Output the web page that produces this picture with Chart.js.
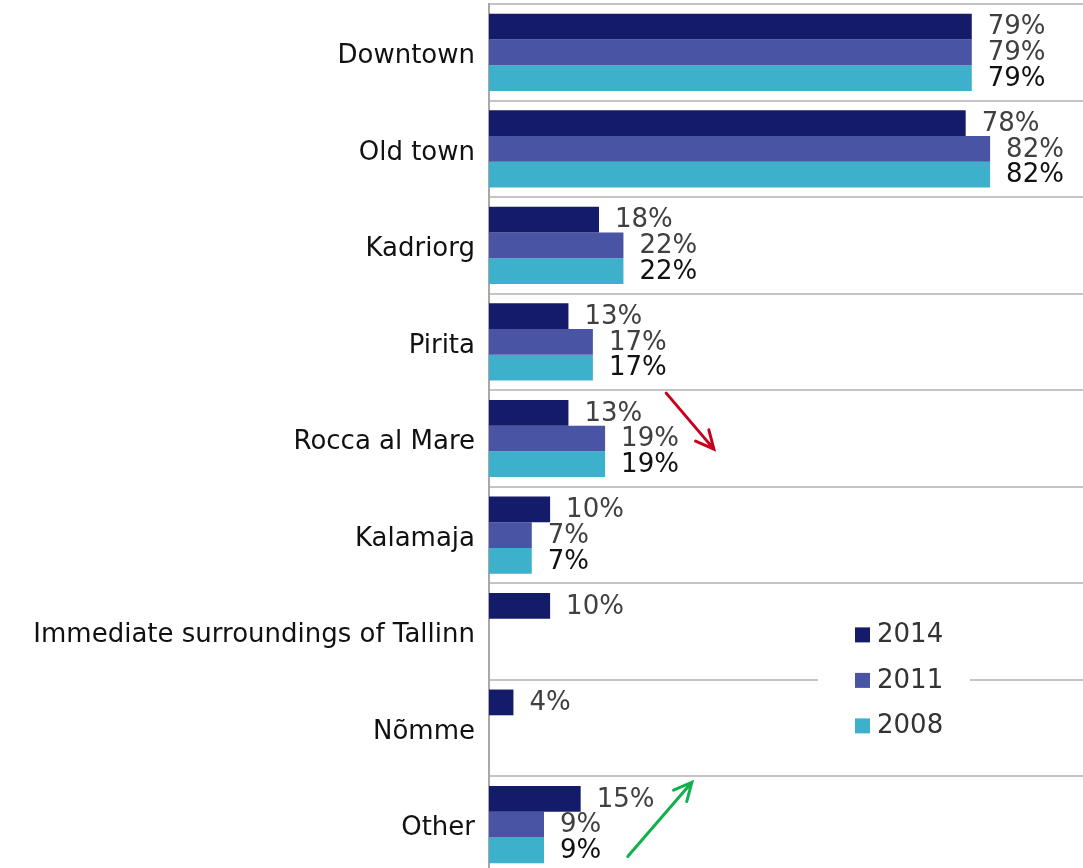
<!DOCTYPE html>
<html>
<head>
<meta charset="utf-8">
<script src="https://cdn.jsdelivr.net/npm/chart.js@4.4.1/dist/chart.umd.min.js"></script>
<style>
  html, body { margin: 0; padding: 0; background: #fff; overflow: hidden; }
  #wrap { width: 1083px; height: 868px; overflow: hidden; }
</style>
</head>
<body>
<!-- canvas is a few px taller than the window, last band runs off the bottom like the original -->
<div id="wrap"><canvas id="chart" width="1083" height="873"></canvas></div>
<script>
// data
const districts = ['Downtown', 'Old town', 'Kadriorg', 'Pirita', 'Rocca al Mare', 'Kalamaja',
    'Immediate surroundings of Tallinn', 'Nõmme', 'Other'];
const years = ['2014', '2011', '2008'];
const values2014 = [79, 78, 18, 13, 13, 10, 10, 4, 15];
const values2011 = [79, 82, 22, 17, 19, 7, null, null, 9];
const values2008 = [79, 82, 22, 17, 19, 7, null, null, 9];
const barColors = ['#141b69', '#4954a5', '#3db0cc'];
const labelColors = ['#404040', '#404040', '#111111'];

const FONT = '"DejaVu Sans", Verdana, sans-serif';

// value labels to the right of each bar
const valueLabels = {
    id: 'valueLabels',
    afterDatasetsDraw(chart) {
        const ctx = chart.ctx;
        ctx.save();
        ctx.font = '26px ' + FONT;
        ctx.textBaseline = 'middle';
        ctx.textAlign = 'left';
        chart.data.datasets.forEach((ds, i) => {
            chart.getDatasetMeta(i).data.forEach((bar, j) => {
                const v = ds.data[j];
                if (v === null) return;
                ctx.fillStyle = labelColors[i];
                ctx.fillText(v + '%', bar.x + 16, bar.y + 1);
            });
        });
        ctx.restore();
    }
};

// trend arrows
function drawArrow(ctx, x1, y1, x2, y2, color) {
    const ang = Math.atan2(y2 - y1, x2 - x1);
    const head = 20;
    ctx.strokeStyle = color;
    ctx.lineWidth = 3;
    ctx.lineCap = 'round';
    ctx.beginPath();
    ctx.moveTo(x1, y1);
    ctx.lineTo(x2, y2);
    ctx.moveTo(x2 - head * Math.cos(ang - 0.45), y2 - head * Math.sin(ang - 0.45));
    ctx.lineTo(x2, y2);
    ctx.lineTo(x2 - head * Math.cos(ang + 0.45), y2 - head * Math.sin(ang + 0.45));
    ctx.stroke();
}

const arrows = {
    id: 'arrows',
    afterDatasetsDraw(chart) {
        const x = chart.scales.x, y = chart.scales.y, ctx = chart.ctx;
        ctx.save();
        drawArrow(ctx, x.getPixelForValue(29), y.getPixelForValue(4 - 0.47),
            x.getPixelForValue(36.8), y.getPixelForValue(4 + 0.11), '#c8001e');
        drawArrow(ctx, x.getPixelForValue(22.7), y.getPixelForValue(8 + 0.33),
            x.getPixelForValue(33.2), y.getPixelForValue(8 - 0.44), '#10b04a');
        ctx.restore();
    }
};

// legend box sitting over the gridline
const legendBox = {
    id: 'legendBox',
    afterDraw(chart) {
        const y = chart.scales.y, ctx = chart.ctx;
        const mid = y.getPixelForValue(6.5);
        ctx.save();
        ctx.fillStyle = '#fff';
        ctx.fillRect(818, mid - 70, 152, 140);
        ctx.font = '26px ' + FONT;
        ctx.textBaseline = 'middle';
        years.forEach((yr, i) => {
            const cy = mid + (i - 1) * 45.5;
            ctx.fillStyle = barColors[i];
            ctx.fillRect(855, cy - 7, 15, 15);
            ctx.fillStyle = '#333';
            ctx.fillText(yr, 877, cy + 1);
        });
        ctx.restore();
    }
};

new Chart(document.getElementById('chart'), {
    type: 'bar',
    data: {
        labels: districts,
        datasets: [
            { label: years[0], data: values2014, backgroundColor: barColors[0] },
            { label: years[1], data: values2011, backgroundColor: barColors[1] },
            { label: years[2], data: values2008, backgroundColor: barColors[2] }
        ]
    },
    options: {
        indexAxis: 'y',
        responsive: false,
        animation: false,
        layout: { padding: { top: 4, right: 0, bottom: 0, left: 0 } },
        datasets: { bar: { categoryPercentage: 0.8, barPercentage: 1.0 } },
        plugins: { legend: { display: false }, tooltip: { enabled: false } },
        scales: {
            x: { display: false, min: 0, max: 97.2 },
            y: {
                afterFit(scale) {
                    scale.width = 489;
                    scale.paddingTop = 0;
                    scale.paddingBottom = 0;
                },
                grid: { color: '#c4c4c4', lineWidth: 2, drawTicks: false, offset: true },
                border: { display: true, color: '#a8a8a8', width: 2 },
                ticks: { color: '#111', padding: 14, labelOffset: 4, font: { family: FONT, size: 26 } }
            }
        }
    },
    plugins: [valueLabels, arrows, legendBox]
});
</script>
</body>
</html>
